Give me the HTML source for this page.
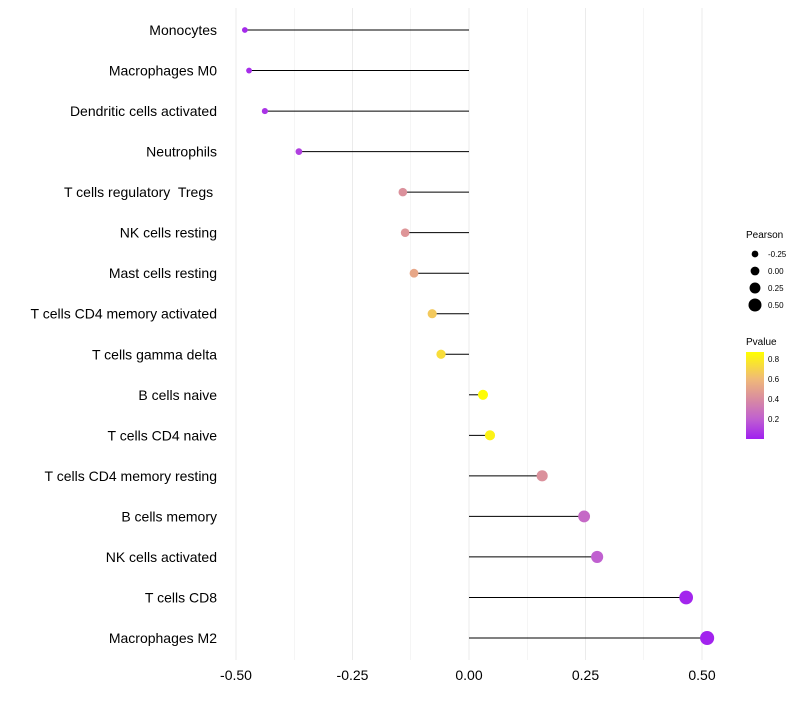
<!DOCTYPE html>
<html><head><meta charset="utf-8"><style>
body{margin:0;background:#fff;font-family:"Liberation Sans",sans-serif}
text{white-space:pre}
</style></head><body>
<svg id="chart" width="800" height="700" xmlns="http://www.w3.org/2000/svg"></svg>
<script>
const categories=["Monocytes","Macrophages M0","Dendritic cells activated","Neutrophils","T cells regulatory  Tregs ","NK cells resting","Mast cells resting","T cells CD4 memory activated","T cells gamma delta","B cells naive","T cells CD4 naive","T cells CD4 memory resting","B cells memory","NK cells activated","T cells CD8","Macrophages M2"];
const pearson=[-0.481,-0.472,-0.438,-0.365,-0.142,-0.137,-0.118,-0.079,-0.060,0.030,0.045,0.157,0.247,0.275,0.466,0.511];
const pvalues=[0.03,0.04,0.06,0.1,0.42,0.44,0.52,0.66,0.74,0.86,0.82,0.42,0.24,0.2,0.02,0.01];
const xTicks=[-0.5,-0.25,0,0.25,0.5];
const xTickLabels=["-0.50","-0.25","0.00","0.25","0.50"];
const sizeLegend=[-0.25,0,0.25,0.5];
const sizeLegendLabels=["-0.25","0.00","0.25","0.50"];
const pTicks=[0.2,0.4,0.6,0.8];

const svg=document.getElementById('chart');
const NS="http://www.w3.org/2000/svg";
function x(v){return 469+v*466;}
function y(i){return 30+i*(608/15);}
function r(v){return Math.max(2,4.9+4.2*v);}
const stops=[[0,[160,32,240]],[0.2,[192,96,208]],[0.4,[217,140,160]],[0.6,[240,185,120]],[0.87,[255,255,0]]];
function col(p){p=Math.min(0.87,Math.max(0,p));for(let k=1;k<stops.length;k++){if(p<=stops[k][0]){const a=stops[k-1],b=stops[k];const t=(p-a[0])/(b[0]-a[0]);return 'rgb('+a[1].map((c,j)=>Math.round(c+(b[1][j]-c)*t)).join(',')+')';}}return 'rgb(255,255,0)';}
function el(tag,attrs,text){const e=document.createElementNS(NS,tag);for(const k in attrs)e.setAttribute(k,attrs[k]);if(text!=null)e.textContent=text;svg.appendChild(e);return e;}

for(let v=-0.5;v<=0.5001;v+=0.125){
  const g=el('line',{x1:x(v),x2:x(v),y1:8,y2:660,stroke:'#ebebeb','stroke-width':Math.abs((v*4)%1)<0.01?1:0.5});
  
  
}
xTicks.forEach((v,i)=>{
  const t=el('text',{x:x(v),y:680,'text-anchor':'middle','font-size':14,fill:'#000'},xTickLabels[i]);
  
  
});
categories.forEach((c,i)=>{
  const t=el('text',{x:217,y:y(i)+5,'text-anchor':'end','font-size':14,fill:'#000'},c);
  
  
  const l=el('line',{x1:x(0),x2:x(pearson[i]),y1:y(i),y2:y(i),stroke:'#000','stroke-width':1});
  
  
  const d=el('circle',{cx:x(pearson[i]),cy:y(i),r:r(pearson[i]),fill:col(pvalues[i])});
  
  
});
const st=el('text',{x:746,y:238,'font-size':10,fill:'#000'},'Pearson');


sizeLegend.forEach((v,i)=>{
  const cy=254+i*17;
  const c=el('circle',{cx:755,cy:cy,r:r(v)-0.5,fill:'#000'});
  
  
  const t=el('text',{x:768,y:cy+3,'font-size':8,fill:'#000'},sizeLegendLabels[i]);
  
  
});
const pt=el('text',{x:746,y:345,'font-size':10,fill:'#000'},'Pvalue');


const defs=el('defs',{});
const lg=document.createElementNS(NS,'linearGradient');
lg.setAttribute('id','pg');lg.setAttribute('x1','0');lg.setAttribute('y1','1');lg.setAttribute('x2','0');lg.setAttribute('y2','0');
defs.appendChild(lg);
stops.forEach(s=>{const o=document.createElementNS(NS,'stop');o.setAttribute('offset',s[0]/0.87);o.setAttribute('stop-color','rgb('+s[1].join(',')+')');lg.appendChild(o);});
const bar=el('rect',{x:746,y:352,width:18,height:87,fill:'url(#pg)'});


pTicks.forEach(p=>{
  const yy=439-p*100;
  const t=el('text',{x:768,y:yy+3,'font-size':8,fill:'#000'},p.toFixed(1));
  
  
});
</script>
</body></html>
